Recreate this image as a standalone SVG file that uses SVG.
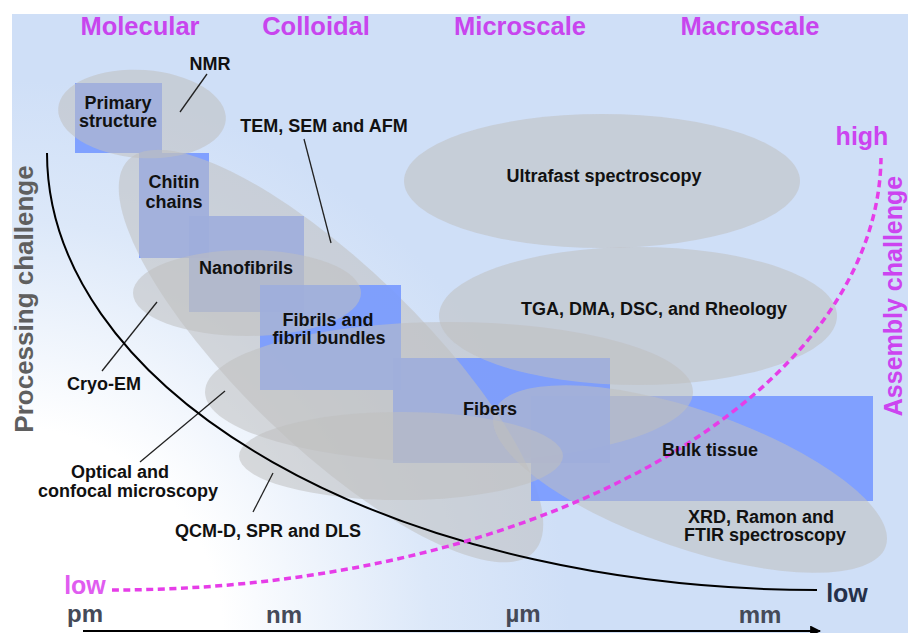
<svg xmlns="http://www.w3.org/2000/svg" xmlns:xlink="http://www.w3.org/1999/xlink" width="908" height="633" viewBox="0 0 908 633">
<defs>
<radialGradient id="bgGrad" gradientUnits="userSpaceOnUse" cx="10" cy="640" r="560">
<stop offset="0" stop-color="#ffffff"/>
<stop offset="0.38" stop-color="#ffffff"/>
<stop offset="0.75" stop-color="#dce8f9"/>
<stop offset="1" stop-color="#cfdff7"/>
</radialGradient>
<ellipse id="diagEll" cx="331" cy="356" rx="282" ry="90" transform="rotate(44 331 356)"/>
<clipPath id="clipFibers"><rect x="393" y="358" width="217" height="105"/></clipPath>
<marker id="arrowHead" viewBox="0 0 10 10" refX="9" refY="5" markerWidth="5" markerHeight="5" orient="auto" markerUnits="strokeWidth">
<path d="M0,0 L10,5 L0,10 z" fill="#000"/>
</marker>
<style>
.ell{fill:#c0c0c0;fill-opacity:0.55;stroke:none}
.blk{fill:#7799ff;fill-opacity:0.9;stroke:none}
.lbl{font-family:"Liberation Sans",Arial,sans-serif;font-weight:bold;font-size:18px;fill:#111;text-anchor:middle}
.hdr{font-family:"Liberation Sans",Arial,sans-serif;font-weight:bold;font-size:25.5px;fill:#c845ee;text-anchor:middle}
.axis{font-family:"Liberation Sans",Arial,sans-serif;font-weight:bold;font-size:24px;fill:#454a58;text-anchor:middle}
.lead{stroke:#222;stroke-width:1.3;fill:none}
</style>
</defs>

<rect id="background" x="12" y="14" width="896" height="619" fill="url(#bgGrad)"/>

<g id="headers">
<text class="hdr" x="140" y="35">Molecular</text>
<text class="hdr" x="316" y="35">Colloidal</text>
<text class="hdr" x="520" y="35">Microscale</text>
<text class="hdr" x="750" y="35">Macroscale</text>
</g>

<g id="rects-lower">
<rect id="r-primary" class="blk" x="75" y="83" width="87" height="70"/>
<rect id="r-chitin" class="blk" x="139" y="153" width="70" height="105"/>
<rect id="r-nanofibrils" class="blk" x="189" y="216" width="115" height="96"/>
</g>

<g id="e-nmr"><ellipse class="ell" cx="142" cy="114" rx="84" ry="44" transform="rotate(4 142 114)"/></g>
<g id="e-tem"><use xlink:href="#diagEll" class="ell"/></g>

<g id="r-fibrils"><rect class="blk" x="260" y="285" width="141" height="105"/></g>
<g id="r-bulk"><rect class="blk" x="531" y="396" width="342" height="105"/></g>

<g id="e-cryo"><ellipse class="ell" cx="247" cy="293" rx="114" ry="43"/></g>
<g id="e-optical"><ellipse class="ell" cx="449" cy="392" rx="244" ry="70"/></g>

<g id="r-fibers"><rect class="blk" x="393" y="358" width="217" height="105"/></g>
<g id="e-tem-over-fibers"><use xlink:href="#diagEll" class="ell" clip-path="url(#clipFibers)"/></g>

<g id="e-qcm"><ellipse class="ell" cx="401" cy="456" rx="162" ry="44"/></g>
<g id="e-ultrafast"><ellipse class="ell" cx="602" cy="181" rx="198" ry="67"/></g>
<g id="e-tga"><ellipse class="ell" cx="638" cy="316" rx="199" ry="69"/></g>
<g id="e-xrd"><ellipse class="ell" cx="690" cy="479" rx="207" ry="69" transform="rotate(19 690 479)"/></g>

<g id="connectors">
<line class="lead" x1="207" y1="74" x2="180" y2="112"/>
<line class="lead" x1="304" y1="139" x2="331" y2="243"/>
<line class="lead" x1="102" y1="371" x2="157" y2="302"/>
<line class="lead" x1="140" y1="462" x2="225" y2="391"/>
<line class="lead" x1="253" y1="512" x2="273" y2="473"/>
<path id="processing-curve" d="M47,153 A770,437 0 0 0 817,590" fill="none" stroke="#000" stroke-width="2"/>
<path id="assembly-curve" d="M112,590 A769,435 0 0 0 881,158" fill="none" stroke="#e63de8" stroke-width="3.5" stroke-dasharray="7 4.5"/>
<line id="scale-axis" x1="83" y1="631" x2="820" y2="631" stroke="#000" stroke-width="2.2" marker-end="url(#arrowHead)"/>
</g>

<g id="labels">
<text class="lbl" x="118" y="108.5">Primary</text>
<text class="lbl" x="118" y="127">structure</text>
<text class="lbl" x="174" y="187.5">Chitin</text>
<text class="lbl" x="174" y="208">chains</text>
<text class="lbl" x="246" y="274">Nanofibrils</text>
<text class="lbl" x="328" y="325.5">Fibrils and</text>
<text class="lbl" x="329" y="344">fibril bundles</text>
<text class="lbl" x="490" y="415">Fibers</text>
<text class="lbl" x="710" y="456">Bulk tissue</text>
<text class="lbl" x="604" y="182">Ultrafast spectroscopy</text>
<text class="lbl" x="654" y="315">TGA, DMA, DSC, and Rheology</text>
<text class="lbl" x="761" y="522.5">XRD, Ramon and</text>
<text class="lbl" x="765" y="541">FTIR spectroscopy</text>
<text class="lbl" x="210" y="70">NMR</text>
<text class="lbl" x="324" y="132">TEM, SEM and AFM</text>
<text class="lbl" x="104" y="390">Cryo-EM</text>
<text class="lbl" x="120" y="478">Optical and</text>
<text class="lbl" x="128" y="497">confocal microscopy</text>
<text class="lbl" x="268" y="537">QCM-D, SPR and DLS</text>
</g>

<g id="axis-labels">
<text class="axis" x="85" y="622">pm</text>
<text class="axis" x="284" y="623">nm</text>
<text class="axis" x="523" y="622">µm</text>
<text class="axis" x="760" y="623">mm</text>
<text x="847" y="602" font-family="Liberation Sans, Arial, sans-serif" font-weight="bold" font-size="25" fill="#25304a" text-anchor="middle">low</text>
<text x="85" y="594" font-family="Liberation Sans, Arial, sans-serif" font-weight="bold" font-size="25" fill="#e05cf0" text-anchor="middle">low</text>
<text x="862" y="145" font-family="Liberation Sans, Arial, sans-serif" font-weight="bold" font-size="25" fill="#cc44f0" text-anchor="middle">high</text>
<text transform="translate(33,299) rotate(-90)" font-family="Liberation Sans, Arial, sans-serif" font-weight="bold" font-size="26" fill="#5f5f5f" text-anchor="middle">Processing challenge</text>
<text transform="translate(902,296) rotate(-90)" font-family="Liberation Sans, Arial, sans-serif" font-weight="bold" font-size="25" fill="#cc44f0" text-anchor="middle">Assembly challenge</text>
</g>
</svg>
